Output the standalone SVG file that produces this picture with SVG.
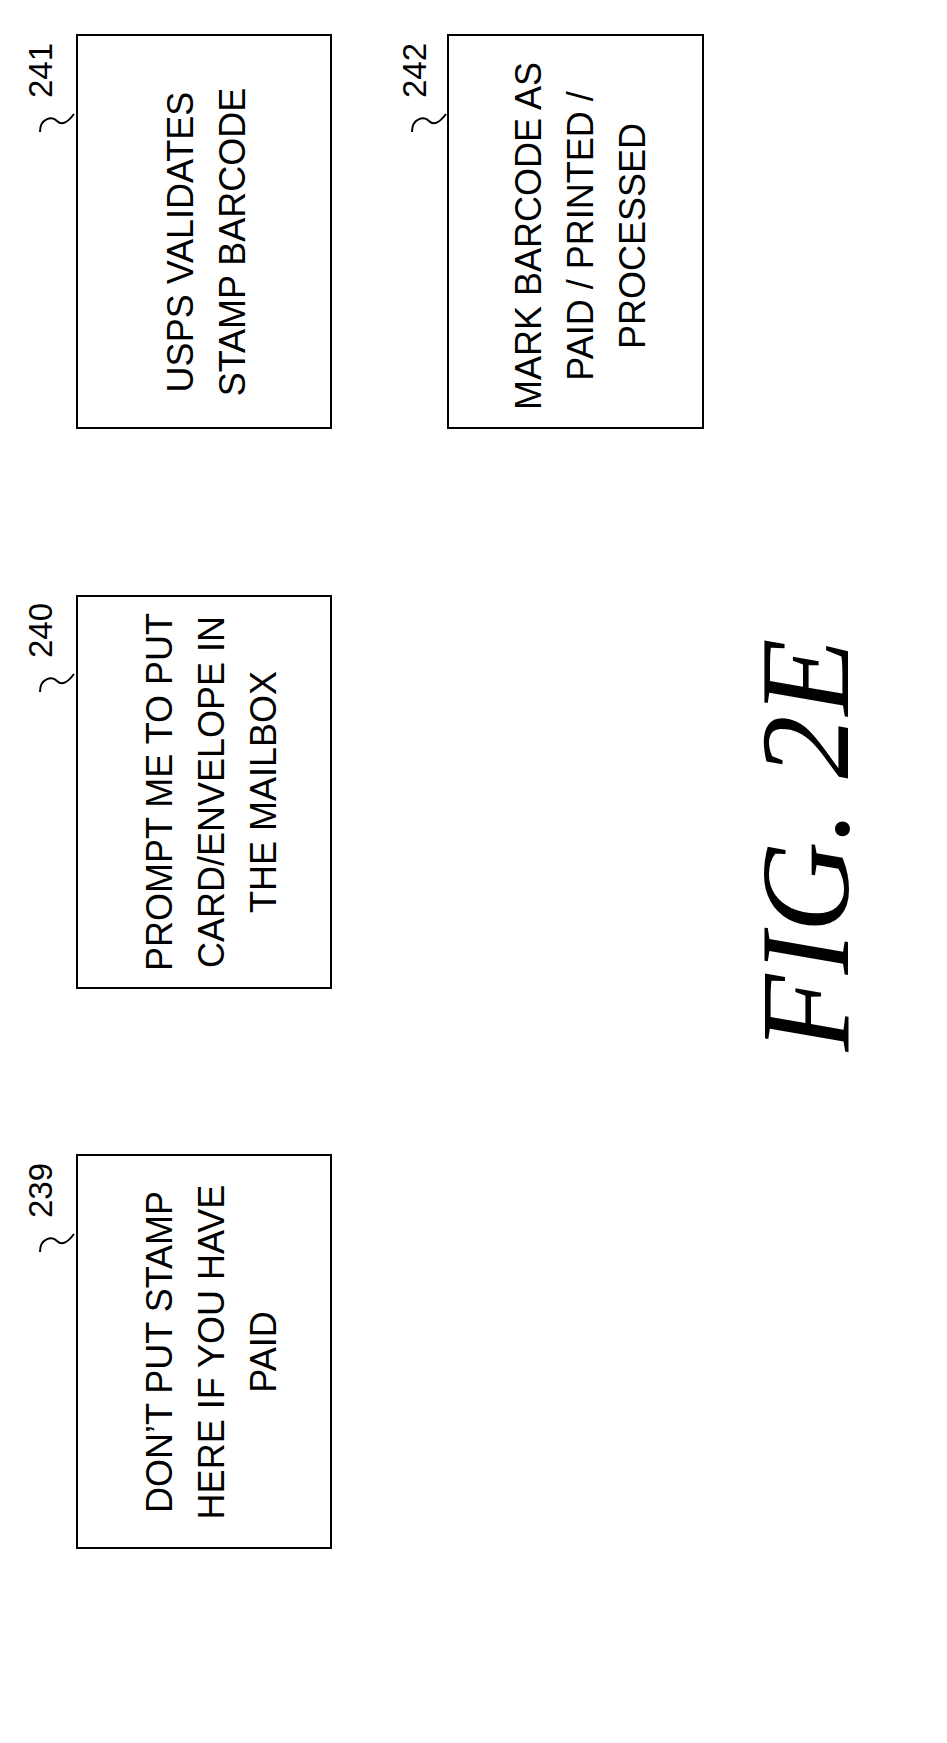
<svg xmlns="http://www.w3.org/2000/svg" width="947" height="1743" viewBox="0 0 947 1743">
<style>
.b{fill:#fff;stroke:#000;stroke-width:2}
.t{font-family:"Liberation Sans",Arial,sans-serif;font-size:36px;text-anchor:middle}
.n{font-family:"Liberation Sans",Arial,sans-serif;font-size:33px}
.l{fill:none;stroke:#000;stroke-width:2}
</style>
<rect width="947" height="1743" fill="#fff"/>
<g id="n241"><rect class="b" x="77" y="35" width="254" height="393"/>
<text class="t" transform="translate(193,242) rotate(-90)">USPS VALIDATES</text>
<text class="t" transform="translate(245,242) rotate(-90)">STAMP BARCODE</text>
<text class="n" transform="translate(52,98) rotate(-90)">241</text>
<path class="l" d="M40,132 C40,118 52,116 57,121 C62,126 68,122 74,114"/></g>
<g id="n242"><rect class="b" x="448" y="35" width="255" height="393"/>
<text class="t" transform="translate(541,236) rotate(-90)">MARK BARCODE AS</text>
<text class="t" transform="translate(593,236) rotate(-90)">PAID / PRINTED /</text>
<text class="t" transform="translate(645,236) rotate(-90)">PROCESSED</text>
<text class="n" transform="translate(426,98) rotate(-90)">242</text>
<path class="l" d="M412,132 C412,118 424,116 429,121 C434,126 440,122 446,114"/></g>
<g id="n240"><rect class="b" x="77" y="596" width="254" height="392"/>
<text class="t" transform="translate(172,792) rotate(-90)">PROMPT ME TO PUT</text>
<text class="t" transform="translate(224,792) rotate(-90)">CARD/ENVELOPE IN</text>
<text class="t" transform="translate(276,792) rotate(-90)">THE MAILBOX</text>
<text class="n" transform="translate(52,658) rotate(-90)">240</text>
<path class="l" d="M40,692 C40,678 52,676 57,681 C62,686 68,682 74,674"/></g>
<g id="n239"><rect class="b" x="77" y="1155" width="254" height="393"/>
<text class="t" transform="translate(172,1352) rotate(-90)">DON’T PUT STAMP</text>
<text class="t" transform="translate(224,1352) rotate(-90)">HERE IF YOU HAVE</text>
<text class="t" transform="translate(276,1352) rotate(-90)">PAID</text>
<text class="n" transform="translate(52,1218) rotate(-90)">239</text>
<path class="l" d="M40,1252 C40,1238 52,1236 57,1241 C62,1246 68,1242 74,1234"/></g>
<g id="connectors"></g>
<text transform="translate(848,845) rotate(-90)" text-anchor="middle" font-family="Liberation Serif,serif" font-style="italic" font-size="126">FIG. 2E</text>
</svg>
